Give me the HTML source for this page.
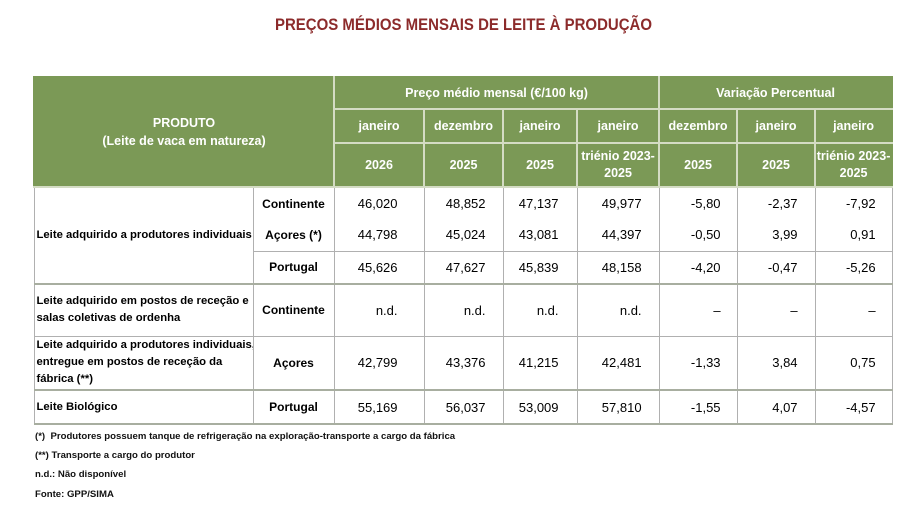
<!DOCTYPE html>
<html><head><meta charset="utf-8"><style>
body{margin:0;width:915px;height:518px;background:#fff;font-family:"Liberation Sans",sans-serif;position:relative;overflow:hidden}
.title{position:absolute;left:275px;width:377px;top:15px;white-space:nowrap;color:#8c2b2b;font-weight:bold;font-size:17px;font-family:"Liberation Sans Narrow","Liberation Sans",sans-serif;transform-origin:0 0}
table{position:absolute;left:33px;top:76px;width:858px;border-collapse:collapse;table-layout:fixed;font-size:12px}
td{padding:0;overflow:hidden;white-space:nowrap}
.h td{background:#7b9956;color:#fff;font-weight:bold;text-align:center;border:2px solid #d4dcc4;font-size:12.5px}
.b td{border:1px solid #b0b0b0;font-size:13px}
.b td.l{font-weight:bold;font-size:11.3px;padding-left:2px;line-height:17px}
.b td.c{font-weight:bold;font-size:12px;text-align:center}
.n{text-align:right}
.notes{position:absolute;left:35px;font-size:9.6px;font-weight:bold;color:#111}
</style></head><body>
<div class="title" id="t">PREÇOS MÉDIOS MENSAIS DE LEITE À PRODUÇÃO</div>
<table>
<colgroup><col style="width:219px"><col style="width:81px"><col style="width:90px"><col style="width:79px"><col style="width:74px"><col style="width:82px"><col style="width:78px"><col style="width:78px"><col style="width:77px"></colgroup>
<tr class="h" style="height:32px"><td colspan="2" rowspan="3" style="border-left-color:#7b9956;border-top-color:#7b9956;line-height:18px">PRODUTO<br>(Leite de vaca em natureza)</td><td colspan="4" style="border-top-color:#7b9956">Preço médio mensal (€/100 kg)</td><td colspan="3" style="border-top-color:#7b9956;border-right-color:#7b9956">Variação Percentual</td></tr>
<tr class="h" style="height:34px"><td>janeiro</td><td>dezembro</td><td>janeiro</td><td>janeiro</td><td>dezembro</td><td>janeiro</td><td style="border-right-color:#7b9956">janeiro</td></tr>
<tr class="h" style="height:44px;line-height:17px"><td>2026</td><td>2025</td><td>2025</td><td>triénio 2023-<br>2025</td><td>2025</td><td>2025</td><td style="border-right-color:#7b9956">triénio 2023-<br>2025</td></tr>
<tr class="b" style="height:32px"><td class="l" rowspan="3">Leite adquirido a produtores individuais</td><td class="c" style="border-bottom:none">Continente</td><td class="n" style="padding-right:26px;border-bottom:none">46,020</td><td class="n" style="padding-right:17px;border-bottom:none">48,852</td><td class="n" style="padding-right:18px;border-bottom:none">47,137</td><td class="n" style="padding-right:17px;border-bottom:none">49,977</td><td class="n" style="padding-right:16px;border-bottom:none">-5,80</td><td class="n" style="padding-right:17px;border-bottom:none">-2,37</td><td class="n" style="padding-right:16px;border-bottom:none">-7,92</td></tr>
<tr class="b" style="height:32px"><td class="c" style="border-top:none">Açores (*)</td><td class="n" style="padding-right:26px;border-top:none">44,798</td><td class="n" style="padding-right:17px;border-top:none">45,024</td><td class="n" style="padding-right:18px;border-top:none">43,081</td><td class="n" style="padding-right:17px;border-top:none">44,397</td><td class="n" style="padding-right:16px;border-top:none">-0,50</td><td class="n" style="padding-right:17px;border-top:none">3,99</td><td class="n" style="padding-right:16px;border-top:none">0,91</td></tr>
<tr class="b" style="height:33px"><td class="c">Portugal</td><td class="n" style="padding-right:26px">45,626</td><td class="n" style="padding-right:17px">47,627</td><td class="n" style="padding-right:18px">45,839</td><td class="n" style="padding-right:17px">48,158</td><td class="n" style="padding-right:16px">-4,20</td><td class="n" style="padding-right:17px">-0,47</td><td class="n" style="padding-right:16px">-5,26</td></tr>
<tr class="b" style="height:52px;border-top:2px solid #a8aea0"><td class="l">Leite adquirido em postos de receção e<br>salas coletivas de ordenha</td><td class="c">Continente</td><td class="n" style="padding-right:26px">n.d.</td><td class="n" style="padding-right:17px">n.d.</td><td class="n" style="padding-right:18px">n.d.</td><td class="n" style="padding-right:17px">n.d.</td><td class="n" style="padding-right:16px">–</td><td class="n" style="padding-right:17px">–</td><td class="n" style="padding-right:16px">–</td></tr>
<tr class="b" style="height:54px"><td class="l">Leite adquirido a produtores individuais,<br>entregue em postos de receção da<br>fábrica (**)</td><td class="c">Açores</td><td class="n" style="padding-right:26px">42,799</td><td class="n" style="padding-right:17px">43,376</td><td class="n" style="padding-right:18px">41,215</td><td class="n" style="padding-right:17px">42,481</td><td class="n" style="padding-right:16px">-1,33</td><td class="n" style="padding-right:17px">3,84</td><td class="n" style="padding-right:16px">0,75</td></tr>
<tr class="b" style="height:34px;border-top:2px solid #a8aea0;border-bottom:2px solid #a8aea0"><td class="l" style="vertical-align:top;padding-top:8px">Leite Biológico</td><td class="c">Portugal</td><td class="n" style="padding-right:26px">55,169</td><td class="n" style="padding-right:17px">56,037</td><td class="n" style="padding-right:18px">53,009</td><td class="n" style="padding-right:17px">57,810</td><td class="n" style="padding-right:16px">-1,55</td><td class="n" style="padding-right:17px">4,07</td><td class="n" style="padding-right:16px">-4,57</td></tr>
</table>
<div class="notes" style="top:431px">(*)&nbsp; Produtores possuem tanque de refrigeração na exploração-transporte a cargo da fábrica</div>
<div class="notes" style="top:450px">(**) Transporte a cargo do produtor</div>
<div class="notes" style="top:469px">n.d.: Não disponível</div>
<div class="notes" style="top:489px">Fonte: GPP/SIMA</div>
<script>
var t=document.getElementById('t');t.style.width='auto';var r=t.getBoundingClientRect().width;t.style.transform='scaleX('+(377/r)+')';
</script>
</body></html>
